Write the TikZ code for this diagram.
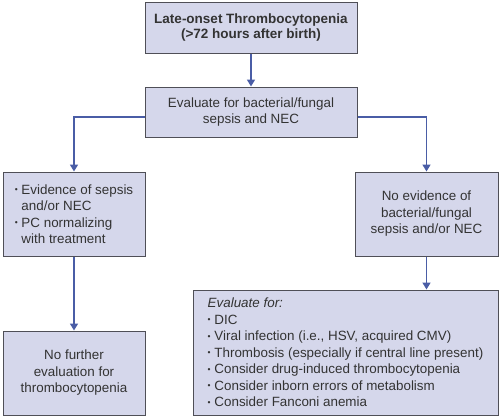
\documentclass[tikz,border=0pt]{standalone}
\usepackage{fontspec}
\setmainfont{Liberation Sans}
\usepackage{tikz}
\usetikzlibrary{arrows.meta,positioning}
\definecolor{boxfill}{HTML}{D5D7EB}
\definecolor{boxline}{HTML}{4F4F57}
\definecolor{flowblue}{HTML}{4A5DA6}
\definecolor{flowtext}{HTML}{333333}
\newcommand{\flowbullet}{{\fontsize{8.5}{8.5}\selectfont\raisebox{0.35ex}{•}}}

\begin{document}
\begin{tikzpicture}[x=1pt,y=-1pt,
  flowbox/.style={draw=boxline,fill=boxfill,line width=1pt,text=flowtext,
    font=\fontsize{13.4}{16.5}\selectfont,align=center,inner sep=0pt},
  flowarrow/.style={flowblue,line width=1.6pt,-{Triangle[length=7pt,width=8pt]}}]
  \useasboundingbox (0,0) rectangle (500,418);
  \node[flowbox,minimum width=212pt,minimum height=51pt,font=\fontsize{13.5}{15.5}\selectfont\bfseries] (onset) at (251,27.5) {Late-onset Thrombocytopenia\\(>72 hours after birth)};
  \node[flowbox,minimum width=212pt,minimum height=50pt] (sepsis) at (251,112) {Evaluate for bacterial/fungal\\sepsis and NEC};
  \node[flowbox,minimum width=142pt,minimum height=84pt,align=left] (septic) at (74,214) {\flowbullet\ Evidence of sepsis\\\hphantom{\flowbullet\ }and/or NEC\\\flowbullet\ PC normalizing\\\hphantom{\flowbullet\ }with treatment};
  \node[flowbox,minimum width=143pt,minimum height=84pt] (nosepsis) at (426.5,214) {No evidence of\\bacterial/fungal\\sepsis and/or NEC};
  \node[flowbox,minimum width=142pt,minimum height=84pt] (noeval) at (74,373) {No further\\evaluation for\\thrombocytopenia};
  \node[flowbox,minimum width=305pt,minimum height=125pt,align=left] (workup) at (345.5,352.5) {{\itshape Evaluate for:}\\\flowbullet\ DIC\\\flowbullet\ Viral infection (i.e., HSV, acquired CMV)\\\flowbullet\ Thrombosis (especially if central line present)\\\flowbullet\ Consider drug-induced thrombocytopenia\\\flowbullet\ Consider inborn errors of metabolism\\\flowbullet\ Consider Fanconi anemia};
  \draw[flowarrow] (onset) -- (sepsis);
  \draw[flowarrow] ([yshift=-5pt]sepsis.west) -| (septic);
  \draw[flowarrow] ([yshift=-5pt]sepsis.east) -| (nosepsis);
  \draw[flowarrow] (septic) -- (noeval);
  \draw[flowarrow] (nosepsis.south) -- (nosepsis.south |- workup.north);
\end{tikzpicture}
\end{document}
